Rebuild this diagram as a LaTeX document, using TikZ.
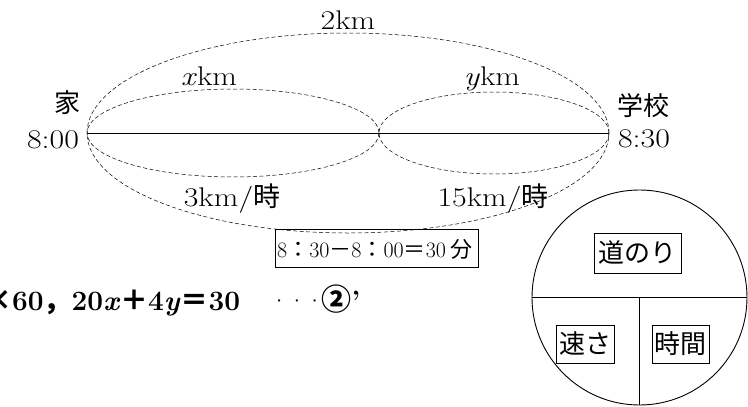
\documentclass[tikz,border=0pt]{standalone}
\usepackage{fontspec}
\setmainfont{Latin Modern Roman}
\newfontfamily\lmw{Latin Modern Roman}[FakeStretch=1.18]
\newfontfamily\jp{Noto Sans CJK JP}
\begin{document}
\begin{tikzpicture}[x=1pt,y=-1pt,
  ellip/.style={draw, dash pattern=on 4pt off 2.5pt, line width=0.5pt},
  lab/.style={font=\fontsize{27}{30}\selectfont\lmw, inner sep=0pt},
  jlab/.style={font=\fontsize{26}{30}\selectfont\jp, inner sep=0pt},
  kbox/.style={draw, line width=0.8pt, font=\fontsize{26}{30}\selectfont\jp, inner sep=0pt}]
\useasboundingbox (0,0) rectangle (748,407);
% ellipses
\draw[ellip] (348,133) ellipse [x radius=261pt, y radius=100pt];
\draw[ellip] (233,133) ellipse [x radius=146pt, y radius=44pt];
\draw[ellip] (494,133) ellipse [x radius=115pt, y radius=41pt];
\coordinate (L) at (87,133);
\coordinate (R) at (609,133);
\draw[line width=1pt] (L) -- (R);
% labels
\node[lab, anchor=base] (d2) at (348,29) {2km};
\node[lab, anchor=base] (dx) at (209,85) {\textit{x}km};
\node[lab, anchor=base] (dy) at (492,85) {\textit{y}km};
\node[jlab] (ie) at (67,103) {家};
\node[lab, anchor=base] (t0) at (53,148) {8:00};
\node[jlab] (gk) at (643,106) {学校};
\node[lab, anchor=base] (t1) at (644,147) {8:30};
\node[lab, anchor=base] (v1) at (232,206) {3km/{\jp 時}};
\node[lab, anchor=base] (v2) at (493,206) {15km/{\jp 時}};
% time box
\node[draw, line width=0.6pt, minimum width=203pt, minimum height=38pt, inner sep=0pt] (tb) at (376.5,248) {};
\node[anchor=base west, inner sep=0pt, font=\fontsize{22}{26}\selectfont] (tbt) at (277,257) {8{\jp ：}30{\jp －}8{\jp ：}00{\jp ＝}30\hspace{5pt}{\jp 分}};
% equation
\node[anchor=base west, inner sep=0pt, font=\fontsize{28}{32}\selectfont\bfseries] (eq) at (-16,310) {{\jp ×}60{\jp ，}20\textit{x}{\jp ＋}4\textit{y}{\jp ＝}30};
\node[anchor=base west, inner sep=0pt, font=\fontsize{28}{32}\selectfont\bfseries] (eqb) at (269,310) {{\mdseries ·\kern-2.5pt·\kern-2.5pt·}\kern-3pt{\fontsize{30}{32}\selectfont\jp ②}’};
% circle
\node[draw, circle, minimum size=215pt, line width=0.9pt, inner sep=0pt] (C) at (639.5,297.5) {};
\draw[line width=0.9pt] (C.west) -- (C.east);
\draw[line width=0.9pt] (C.center) -- (C.south);
\node[kbox, minimum width=87pt, minimum height=40pt] (k1) at (637.5,253) {道のり};
\node[kbox, minimum width=58pt, minimum height=38pt] (k2) at (585,344) {速さ};
\node[kbox, minimum width=57pt, minimum height=38pt] (k3) at (680.5,344) {時間};
\end{tikzpicture}
\end{document}
